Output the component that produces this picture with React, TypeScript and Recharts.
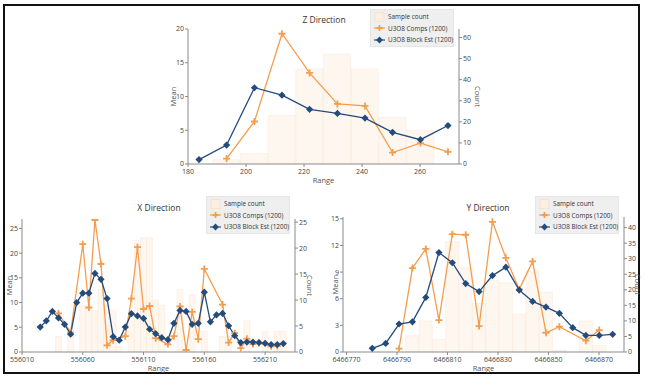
import { ComposedChart, Bar, Line, XAxis, YAxis, Legend } from "recharts";

const FONT = "'Segoe UI', 'Open Sans', 'Noto Sans', sans-serif";
const ORANGE = "#F49D4E";
const BLUE = "#234B7C";
const BAR_FILL = "#fef7f0";
const BAR_STROKE = "#f9e7d7";
const AXIS = "#8a8a8a";
const TXT = "#444";

// ---- Z direction
const zRange = [183.8, 193.3, 202.9, 212.4, 221.9, 231.5, 241.0, 250.5, 260.1, 269.6];
const zCount = [0, 2, 5, 23, 45, 52, 45, 22, 16, 0];
const zComps = [null, 0.8, 6.3, 19.3, 13.5, 8.9, 8.6, 1.7, 3.1, 1.8];
const zBlock = [0.65, 2.8, 11.3, 10.2, 8.1, 7.5, 6.8, 4.7, 3.6, 5.7];
const zTicks = [180, 200, 220, 240, 260];
const zMeanTicks = [0, 5, 10, 15, 20];
const zCountTicks = [0, 10, 20, 30, 40, 50, 60];

// ---- X direction
const xRange = [
  556025, 556030, 556035, 556040, 556045, 556050, 556055, 556060, 556065, 556070,
  556075, 556080, 556085, 556090, 556095, 556100, 556105, 556110, 556115, 556120,
  556125, 556130, 556135, 556140, 556145, 556150, 556155, 556160, 556165, 556170,
  556175, 556180, 556185, 556190, 556195, 556200, 556205, 556210, 556215, 556220,
  556225,
];
const xCount = [
  0, 0, 0, 3, 0, 4.5, 0, 9, 8.4, 8,
  12, 9, 8, 1, 0, 6, 21.5, 22, 22, 10,
  9, 0, 0, 12, 0, 11, 0, 4, 0, 0,
  3, 3, 0, 0, 6, 0, 0, 4, 0, 4,
  4,
];
const xComps = [
  null, null, null, 7.8, null, 3.9, null, 21.8, 9.0, 26.7,
  17.8, 1.35, 2.4, null, 3.2, 10.8, 21.2, 8.7, 9.3, 2.8,
  null, 1.55, 3.2, 9.2, 0.4, 8.1, 2.6, 16.8, null, null,
  9.6, 1.9, 3.8, 0.8, 2.7, 1.6, 1.8, null, 1.15, 1.2,
  null,
];
const xBlock = [
  5.05, 6.3, 8.2, 6.9, 5.6, 3.6, 10.0, 11.9, 11.9, 15.9,
  14.7, 10.8, 3.1, 2.4, 5.05, 7.75, 7.3, 6.8, 4.6, 3.7,
  2.9, 2.5, 5.8, 8.4, 8.2, 5.6, 5.8, 12.1, 6.1, 7.5,
  7.8, 5.3, 3.3, 1.9, 2.0, 2.0, 1.9, 1.75, 1.5, 1.5,
  1.7,
];
const xTicks = [556010, 556060, 556110, 556160, 556210];
const xMeanTicks = [0, 5, 10, 15, 20, 25];
const xCountTicks = [0, 5, 10, 15, 20, 25];

// ---- Y direction
const yRange = [
  6466780.2, 6466785.5, 6466790.8, 6466796.1, 6466801.4, 6466806.6, 6466811.9,
  6466817.2, 6466822.5, 6466827.8, 6466833.1, 6466838.4, 6466843.7, 6466849.0,
  6466854.3, 6466859.6, 6466864.8, 6466870.1, 6466875.4,
];
const yCount = [0, 0, 0, 5.2, 10, 4, 35.5, 27, 15.6, 23, 22.3, 12.2, 25.8, 19.2, 0.6, 0, 10, 2.1, 0];
const yComps = [null, null, 0.37, 9.45, 11.6, 3.6, 13.27, 13.2, 2.92, 14.66, 10.6, 7.05, 10.2, 2.17, 2.85, null, 1.27, 2.47, null];
const yBlock = [0.41, 0.97, 3.15, 3.4, 6.15, 11.2, 10.05, 7.7, 6.8, 8.6, 9.55, 6.97, 5.7, 5.06, 4.35, 2.74, 1.87, 1.87, 1.99];
const yTicks = [6466770, 6466790, 6466810, 6466830, 6466850, 6466870];
const yMeanTicks = [0, 3, 6, 9, 12, 15];
const yCountTicks = [0, 5, 10, 15, 20, 25, 30, 35, 40];

const build = (range: number[], count: number[], comps: (number | null)[], block: number[]) =>
  range.map((r, i) => ({ range: r, count: count[i], comps: comps[i], block: block[i] }));

const PlusDot = (props: any) => {
  const { cx, cy, index } = props;
  if (cx == null || cy == null || props.value == null) return <g key={`p${index}`} />;
  return (
    <path
      key={`p${index}`}
      d={`M${cx - 3.5},${cy}H${cx + 3.5}M${cx},${cy - 3.5}V${cy + 3.5}`}
      stroke={ORANGE}
      strokeWidth={1.8}
    />
  );
};

const DiamondDot = (props: any) => {
  const { cx, cy, index } = props;
  if (cx == null || cy == null) return <g key={`d${index}`} />;
  return (
    <path
      key={`d${index}`}
      d={`M${cx},${cy - 3.6}L${cx + 3.6},${cy}L${cx},${cy + 3.6}L${cx - 3.6},${cy}Z`}
      fill={BLUE}
    />
  );
};

const LegendBox = () => (
  <div
    style={{
      width: 84,
      height: 38,
      boxSizing: "border-box",
      background: "#efefef",
      border: "1px solid #e6e6e6",
      padding: "1px 0 0 3px",
      fontFamily: FONT,
      fontSize: 6.4,
      color: "#333",
    }}
  >
    {[
      { name: "Sample count", kind: "bar" },
      { name: "U3O8 Comps (1200)", kind: "comps" },
      { name: "U3O8 Block Est (1200)", kind: "block" },
    ].map((it) => (
      <div key={it.name} style={{ display: "flex", alignItems: "center", height: 11.5, whiteSpace: "nowrap" }}>
        <svg width={11} height={10} style={{ marginRight: 3, flex: "none" }}>
          {it.kind === "bar" && <rect x={1} y={0.5} width={9} height={9} fill="#fbeee2" stroke="#f6e2d0" />}
          {it.kind === "comps" && (
            <g>
              <line x1={0} y1={5} x2={11} y2={5} stroke={ORANGE} strokeWidth={1.2} />
              <path d="M2.5,5H8.5M5.5,2V8" stroke={ORANGE} strokeWidth={1.8} />
            </g>
          )}
          {it.kind === "block" && (
            <g>
              <line x1={0} y1={5} x2={11} y2={5} stroke={BLUE} strokeWidth={1.2} />
              <path d="M5.5,1.6L8.9,5L5.5,8.4L2.1,5Z" fill={BLUE} />
            </g>
          )}
        </svg>
        <span>{it.name}</span>
      </div>
    ))}
  </div>
);

type PanelProps = {
  title: string;
  left: number;
  top: number;
  width: number;
  height: number;
  margin: { top: number; right: number; bottom: number; left: number };
  yw: [number, number];
  xh: number;
  data: any[];
  xDomain: [number, number];
  xTicks: number[];
  meanDomain: [number, number];
  meanTicks: number[];
  countDomain: [number, number];
  countTicks: number[];
  barSize: number;
  legendPos: { left: number; top: number };
  titlePos: { x: number; y: number };
  labelOffsets: { mean: number; count: number; range: number };
};

const tickStyle = { fontSize: 7, fill: TXT, fontFamily: FONT };
const labelStyle = { fontSize: 7.5, fill: "#555", fontFamily: FONT };

function Panel(p: PanelProps) {
  return (
    <div style={{ position: "absolute", left: p.left, top: p.top, width: p.width, height: p.height }}>
      <ComposedChart width={p.width} height={p.height} data={p.data} margin={p.margin}>
        <XAxis
          dataKey="range"
          type="number"
          domain={p.xDomain}
          ticks={p.xTicks}
          allowDataOverflow
          height={p.xh}
          stroke={AXIS}
          tickSize={3}
          tickMargin={2}
          tick={tickStyle}
          interval={0}
          label={{ value: "Range", position: "center", dy: p.labelOffsets.range, style: labelStyle }}
        />
        <YAxis
          yAxisId="mean"
          domain={p.meanDomain}
          ticks={p.meanTicks}
          allowDataOverflow
          width={p.yw[0]}
          stroke={AXIS}
          tickSize={3}
          tickMargin={1}
          tick={tickStyle}
          interval={0}
          label={{ value: "Mean", angle: -90, position: "center", dx: p.labelOffsets.mean, style: labelStyle }}
        />
        <YAxis
          yAxisId="count"
          orientation="right"
          domain={p.countDomain}
          ticks={p.countTicks}
          allowDataOverflow
          width={p.yw[1]}
          stroke={AXIS}
          tickSize={3}
          tickMargin={1}
          tick={tickStyle}
          interval={0}
          label={{ value: "Count", angle: 90, position: "center", dx: p.labelOffsets.count, style: labelStyle }}
        />
        <Legend
          layout="vertical"
          align="center"
          verticalAlign="middle"
          content={() => <LegendBox />}
          wrapperStyle={{ left: p.legendPos.left, top: p.legendPos.top, width: 84, height: 38 }}
        />
        <Bar
          yAxisId="count"
          dataKey="count"
          name="Sample count"
          barSize={p.barSize}
          fill={BAR_FILL}
          stroke={BAR_STROKE}
          strokeWidth={0.5}
          isAnimationActive={false}
        />
        <Line
          yAxisId="mean"
          dataKey="comps"
          name="U3O8 Comps (1200)"
          stroke={ORANGE}
          strokeWidth={1.3}
          connectNulls
          dot={PlusDot}
          activeDot={false}
          isAnimationActive={false}
        />
        <Line
          yAxisId="mean"
          dataKey="block"
          name="U3O8 Block Est (1200)"
          stroke={BLUE}
          strokeWidth={1.3}
          connectNulls
          dot={DiamondDot}
          activeDot={false}
          isAnimationActive={false}
        />
        <text
          x={p.titlePos.x}
          y={p.titlePos.y}
          textAnchor="middle"
          dominantBaseline="middle"
          style={{ fontSize: 8.5, fill: "#333", fontFamily: FONT }}
        >
          {p.title}
        </text>
      </ComposedChart>
    </div>
  );
}

export default function App() {
  return (
    <div style={{ position: "absolute", left: 0, top: 0, width: 645, height: 379, background: "#fff", overflow: "hidden" }}>
      <div
        style={{
          position: "absolute",
          left: 3,
          top: 4,
          width: 637,
          height: 370,
          boxSizing: "border-box",
          border: "2px solid #111",
        }}
      />
      <Panel
        title="Z Direction"
        left={0}
        top={0}
        width={645}
        height={190}
        margin={{ top: 29, right: 156, bottom: 1, left: 158 }}
        yw={[30, 30]}
        xh={25}
        data={build(zRange, zCount, zComps, zBlock)}
        xDomain={[180, 273.4]}
        xTicks={zTicks}
        meanDomain={[0, 20]}
        meanTicks={zMeanTicks}
        countDomain={[0, 64]}
        countTicks={zCountTicks}
        barSize={27}
        legendPos={{ left: 370, top: 9 }}
        titlePos={{ x: 324, y: 21 }}
        labelOffsets={{ mean: 0, count: 4, range: 4 }}
      />
      <Panel
        title="X Direction"
        left={0}
        top={190}
        width={322}
        height={189}
        margin={{ top: 29, right: 5, bottom: 5, left: 2 }}
        yw={[20, 22]}
        xh={22}
        data={build(xRange, xCount, xComps, xBlock)}
        xDomain={[556010, 556234.6]}
        xTicks={xTicks}
        meanDomain={[0, 26.9]}
        meanTicks={xMeanTicks}
        countDomain={[0, 25.6]}
        countTicks={xCountTicks}
        barSize={6}
        legendPos={{ left: 206, top: 6 }}
        titlePos={{ x: 159, y: 19 }}
        labelOffsets={{ mean: -3, count: 4, range: 5.5 }}
      />
      <Panel
        title="Y Direction"
        left={322}
        top={190}
        width={323}
        height={189}
        margin={{ top: 27, right: 3, bottom: 5, left: 3 }}
        yw={[18, 18]}
        xh={22}
        data={build(yRange, yCount, yComps, yBlock)}
        xDomain={[6466768.6, 6466879.9]}
        xTicks={yTicks}
        meanDomain={[0, 15.2]}
        meanTicks={yMeanTicks}
        countDomain={[0, 43.4]}
        countTicks={yCountTicks}
        barSize={13}
        legendPos={{ left: 213, top: 6 }}
        titlePos={{ x: 166, y: 19 }}
        labelOffsets={{ mean: 1, count: 5, range: 5.5 }}
      />
    </div>
  );
}
